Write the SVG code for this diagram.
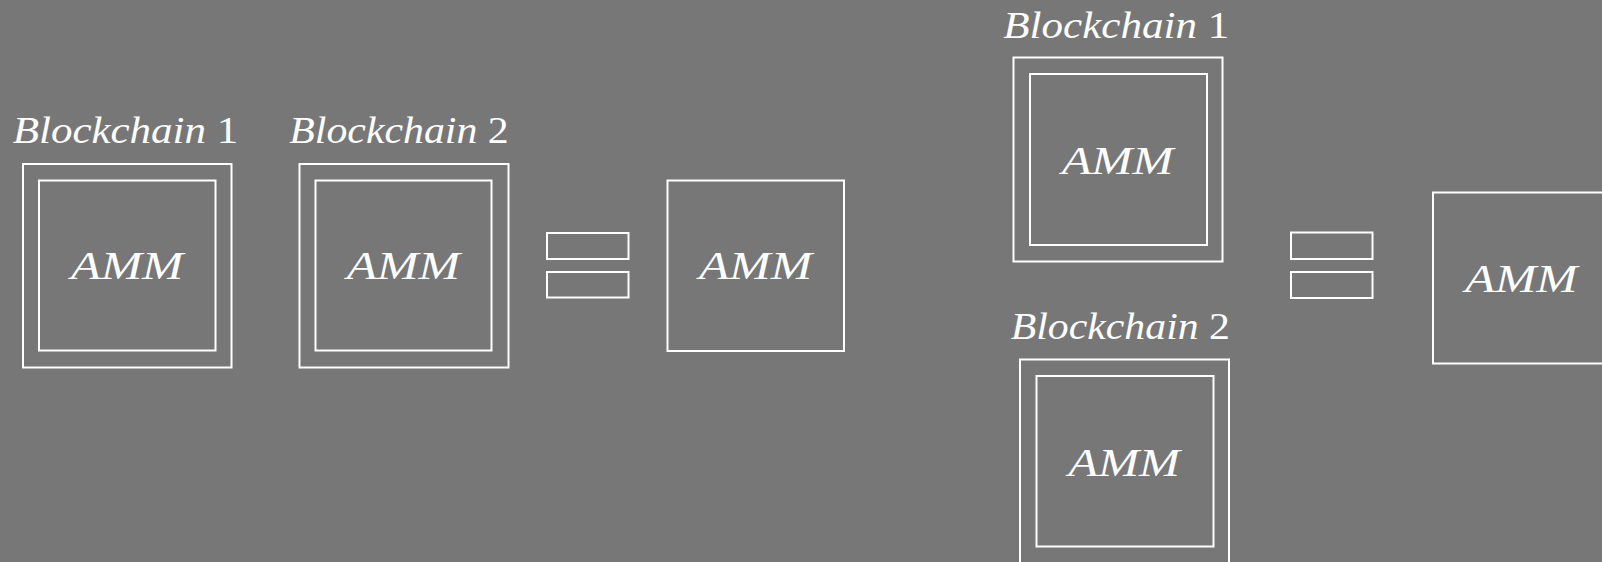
<svg xmlns="http://www.w3.org/2000/svg" width="1602" height="562" viewBox="0 0 1602 562">
<style>
.b{fill:none;stroke:#fff;stroke-width:2}
.t{fill:#fff;font-family:"Liberation Serif",serif;font-style:italic}
.lab{font-size:37px}
.amm{font-size:41px}
.up{font-style:normal}
</style>
<rect x="0" y="0" width="1602" height="562" fill="#777777"/>
<g id="bc1-left">
<text class="t lab" x="12.7" y="143.3" textLength="225.6" lengthAdjust="spacingAndGlyphs">Blockchain <tspan class="up">1</tspan></text>
<rect class="b" x="23" y="164" width="208.5" height="203.5"/>
<rect class="b" x="39" y="180.5" width="176.5" height="170"/>
<text class="t amm" x="70.7" y="279.3" textLength="112.6" lengthAdjust="spacingAndGlyphs">AMM</text>
</g>
<g id="bc2-left">
<text class="t lab" x="289.3" y="143.3" textLength="219.4" lengthAdjust="spacingAndGlyphs">Blockchain <tspan class="up">2</tspan></text>
<rect class="b" x="299.5" y="164" width="209" height="203.5"/>
<rect class="b" x="315.5" y="180.5" width="176" height="170"/>
<text class="t amm" x="346.7" y="279.3" textLength="113.3" lengthAdjust="spacingAndGlyphs">AMM</text>
</g>
<g id="eq-left">
<rect class="b" x="547" y="233" width="81.5" height="26"/>
<rect class="b" x="547" y="272" width="81.5" height="25.5"/>
</g>
<g id="amm-left">
<rect class="b" x="667.5" y="180.5" width="176.5" height="170.5"/>
<text class="t amm" x="699" y="279.3" textLength="113" lengthAdjust="spacingAndGlyphs">AMM</text>
</g>
<g id="bc1-right">
<text class="t lab" x="1003.3" y="38.3" textLength="226" lengthAdjust="spacingAndGlyphs">Blockchain <tspan class="up">1</tspan></text>
<rect class="b" x="1013.5" y="57.5" width="209" height="204"/>
<rect class="b" x="1030" y="74" width="177" height="171"/>
<text class="t amm" x="1061.7" y="174" textLength="111.6" lengthAdjust="spacingAndGlyphs">AMM</text>
</g>
<g id="bc2-right">
<text class="t lab" x="1010.7" y="339.3" textLength="219.3" lengthAdjust="spacingAndGlyphs">Blockchain <tspan class="up">2</tspan></text>
<rect class="b" x="1020" y="359.5" width="209" height="220"/>
<rect class="b" x="1036.5" y="376" width="177" height="170.5"/>
<text class="t amm" x="1068.3" y="476" textLength="111.7" lengthAdjust="spacingAndGlyphs">AMM</text>
</g>
<g id="eq-right">
<rect class="b" x="1291" y="232.5" width="81.5" height="26.5"/>
<rect class="b" x="1291" y="272" width="81.5" height="26"/>
</g>
<g id="amm-right">
<rect class="b" x="1433" y="192.5" width="190" height="171"/>
<text class="t amm" x="1465" y="291.7" textLength="112.3" lengthAdjust="spacingAndGlyphs">AMM</text>
</g>
<g id="connectors"/>
</svg>
